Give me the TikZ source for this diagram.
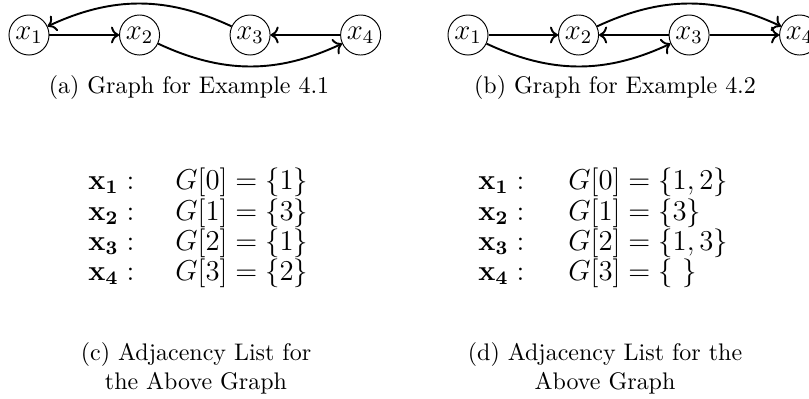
\documentclass[tikz,border=0pt]{standalone}
\usepackage{amsmath, amssymb}
\usepackage{tikz}
\usetikzlibrary{arrows.meta, positioning}
\tikzset{
  gvert/.style={circle, draw, inner sep=1.2pt, font=\large},
  garr/.style={->, thick},
  gcap/.style={font=\normalsize, align=center},
  lkey/.style={font=\large, anchor=base west, inner sep=0pt},
  lval/.style={font=\large, anchor=base west, inner sep=0pt},
}

\begin{document}
\begin{tikzpicture}[x=0.417pt, y=-0.417pt, node distance=29pt]
  \useasboundingbox (0,0) rectangle (809,398);
  % graph for example 4.1
  \node[gvert] (a1) at (29,35) {$x_1$};
  \node[gvert, right=of a1] (a2) {$x_2$};
  \node[gvert, right=of a2] (a3) {$x_3$};
  \node[gvert, right=of a3] (a4) {$x_4$};
  \draw[garr] (a1) -- (a2);
  \draw[garr] (a2) to[bend right=25] (a4);
  \draw[garr] (a3) to[bend right=25] (a1);
  \draw[garr] (a4) -- (a3);
  \node[gcap] (capa) at (189,88) {(a) Graph for Example 4.1};
  % graph for example 4.2
  \node[gvert] (b1) at (468,35) {$x_1$};
  \node[gvert, right=of b1] (b2) {$x_2$};
  \node[gvert, right=of b2] (b3) {$x_3$};
  \node[gvert, right=of b3] (b4) {$x_4$};
  \draw[garr] (b1) -- (b2);
  \draw[garr] (b3) -- (b2);
  \draw[garr] (b3) -- (b4);
  \draw[garr] (b2) to[bend left=25] (b4);
  \draw[garr] (b1) to[bend right=25] (b3);
  \node[gcap] (capb) at (615,88) {(b) Graph for Example 4.2};
  % adjacency lists
  \node[lkey] (kc1) at (88,189) {$\mathbf{x_1}:$};
  \node[lval] (vc1) at (175,189) {$G[0]=\{1\}$};
  \node[lkey] (kc2) at (88,220) {$\mathbf{x_2}:$};
  \node[lval] (vc2) at (175,220) {$G[1]=\{3\}$};
  \node[lkey] (kc3) at (88,250) {$\mathbf{x_3}:$};
  \node[lval] (vc3) at (175,250) {$G[2]=\{1\}$};
  \node[lkey] (kc4) at (88,280) {$\mathbf{x_4}:$};
  \node[lval] (vc4) at (175,280) {$G[3]=\{2\}$};
  \node[gcap] (capc) at (196,368) {(c) Adjacency List for\\the Above Graph};
  \node[lkey] (kd1) at (478,189) {$\mathbf{x_1}:$};
  \node[lval] (vd1) at (568,189) {$G[0]=\{1,2\}$};
  \node[lkey] (kd2) at (478,220) {$\mathbf{x_2}:$};
  \node[lval] (vd2) at (568,220) {$G[1]=\{3\}$};
  \node[lkey] (kd3) at (478,250) {$\mathbf{x_3}:$};
  \node[lval] (vd3) at (568,250) {$G[2]=\{1,3\}$};
  \node[lkey] (kd4) at (478,280) {$\mathbf{x_4}:$};
  \node[lval] (vd4) at (568,280) {$G[3]=\{\ \}$};
  \node[gcap] (capd) at (605,368) {(d) Adjacency List for the\\Above Graph};
\end{tikzpicture}
\end{document}
